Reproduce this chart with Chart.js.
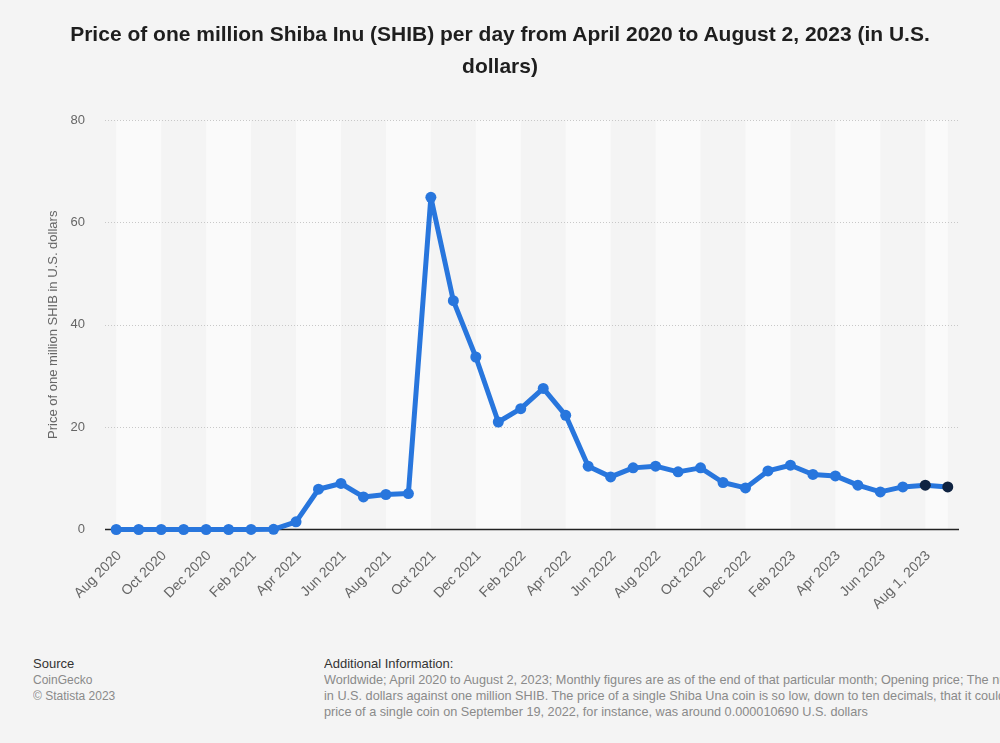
<!DOCTYPE html>
<html><head><meta charset="utf-8">
<script src="https://cdn.jsdelivr.net/npm/chart.js@4.4.0/dist/chart.umd.min.js"></script>
<style>
html,body{margin:0;padding:0;background:#f4f4f4;width:1000px;height:743px;overflow:hidden;font-family:"Liberation Sans",Arial,sans-serif;}
#title{position:absolute;left:0;top:18px;width:1000px;text-align:center;font-weight:bold;font-size:21px;line-height:32px;color:#1e1e1e;}
#wrap{position:absolute;left:0;top:0;width:1000px;height:640px;}
.foot{position:absolute;top:656px;font-size:12px;line-height:16px;color:#8a8a8a;white-space:nowrap;overflow:hidden;}
.foot .head{font-size:13px;color:#333;}
.foot .g{font-size:12.7px;}
</style></head>
<body>
<div id="wrap"><canvas id="c" width="1000" height="640"></canvas></div>
<div id="title">Price of one million Shiba Inu (SHIB) per day from April 2020 to August 2, 2023 (in U.S.<br>dollars)</div>
<div class="foot" style="left:33px;width:250px;">
<div class="head">Source</div>
<div>CoinGecko</div>
<div>© Statista 2023</div>
</div>
<div class="foot" style="left:324px;width:676px;">
<div class="head">Additional Information:</div>
<div class="g">Worldwide; April 2020 to August 2, 2023; Monthly figures are as of the end of that particular month; Opening price; The numbers show the price in U.S. dollars</div>
<div class="g">in U.S. dollars against one million SHIB. The price of a single Shiba Una coin is so low, down to ten decimals, that it could not be shown in the chart. The</div>
<div class="g">price of a single coin on September 19, 2022, for instance, was around 0.000010690 U.S. dollars</div>
</div>
<script>
const categories = ['Aug 2020','Sep 2020','Oct 2020','Nov 2020','Dec 2020','Jan 2021','Feb 2021','Mar 2021','Apr 2021','May 2021','Jun 2021','Jul 2021','Aug 2021','Sep 2021','Oct 2021','Nov 2021','Dec 2021','Jan 2022','Feb 2022','Mar 2022','Apr 2022','May 2022','Jun 2022','Jul 2022','Aug 2022','Sep 2022','Oct 2022','Nov 2022','Dec 2022','Jan 2023','Feb 2023','Mar 2023','Apr 2023','May 2023','Jun 2023','Jul 2023','Aug 1, 2023','Aug 2, 2023'];
const prices = [0.001, 0.001, 0.001, 0.001, 0.001, 0.002, 0.02, 0.03, 1.49, 7.87, 8.99, 6.37, 6.84, 7.03, 64.9, 44.7, 33.7, 21.0, 23.6, 27.55, 22.3, 12.37, 10.28, 12.04, 12.37, 11.26, 12.04, 9.18, 8.13, 11.45, 12.56, 10.75, 10.47, 8.66, 7.35, 8.32, 8.66, 8.32];
const dailyCategories = ['Aug 1, 2023','Aug 2, 2023'];
const yTicks = [0, 20, 40, 60, 80];

const FONT = '"Liberation Sans", Arial, sans-serif';
const BLUE = '#2876dd';
const NAVY = '#0f2341';

const backdrop = {
  id: 'backdrop',
  beforeDraw(chart) {
    const {ctx, chartArea: a, scales: {x, y}} = chart;
    const n = chart.data.labels.length;
    ctx.save();
    ctx.fillStyle = '#fafafa';
    for (let i = 0; i < n - 1; i += 4) {
      const x0 = x.getPixelForValue(i);
      const x1 = x.getPixelForValue(Math.min(i + 2, n - 1));
      ctx.fillRect(x0, a.top, x1 - x0, a.bottom - a.top);
    }
    ctx.lineWidth = 1;
    ctx.strokeStyle = '#c8c8c8';
    ctx.setLineDash([1, 2]);
    yTicks.forEach(v => {
      if (v === 0) return;
      const py = Math.round(y.getPixelForValue(v)) + 0.5;
      ctx.beginPath(); ctx.moveTo(a.left, py); ctx.lineTo(a.right, py); ctx.stroke();
    });
    ctx.setLineDash([]);
    ctx.strokeStyle = '#222';
    ctx.lineWidth = 1.5;
    const p0 = y.getPixelForValue(0);
    ctx.beginPath(); ctx.moveTo(a.left, p0); ctx.lineTo(a.right, p0); ctx.stroke();
    ctx.restore();
  }
};

new Chart(document.getElementById('c'), {
  type: 'line',
  data: {
    labels: categories,
    datasets: [{
      data: prices,
      clip: false,
      borderColor: BLUE,
      borderWidth: 5,
      borderJoinStyle: 'round',
      borderCapStyle: 'round',
      tension: 0,
      pointRadius: 5.5,
      pointHoverRadius: 5.5,
      pointBorderWidth: 0,
      pointBackgroundColor: c => dailyCategories.includes(categories[c.dataIndex]) ? NAVY : BLUE,
      pointBorderColor: c => dailyCategories.includes(categories[c.dataIndex]) ? NAVY : BLUE
    }]
  },
  options: {
    responsive: false,
    animation: false,
    layout: {padding: {left: 0, right: 41, top: 120, bottom: 0}},
    plugins: {legend: {display: false}, tooltip: {enabled: false}},
    scales: {
      x: {
        offset: true,
        grid: {display: false, drawTicks: false},
        border: {display: false},
        ticks: {
          autoSkip: false, maxRotation: 45, minRotation: 45, color: '#666', padding: 18, labelOffset: 3,
          font: {size: 14, family: FONT},
          callback: (v, i) => i % 2 === 0 ? categories[i] : ''
        },
        afterFit(s) { s.height = 110.5; }
      },
      y: {
        min: 0, max: 80,
        afterBuildTicks(s) { s.ticks = yTicks.map(v => ({value: v})); },
        grid: {display: false, drawTicks: false},
        border: {display: false},
        ticks: {color: '#666', padding: 20, font: {size: 13, family: FONT}},
        title: {display: true, text: 'Price of one million SHIB in U.S. dollars', color: '#666', font: {size: 13, family: FONT}, padding: {top: 46, bottom: 0}},
        afterFit(s) { s.width = 105; }
      }
    }
  },
  plugins: [backdrop]
});
</script>
</body></html>
